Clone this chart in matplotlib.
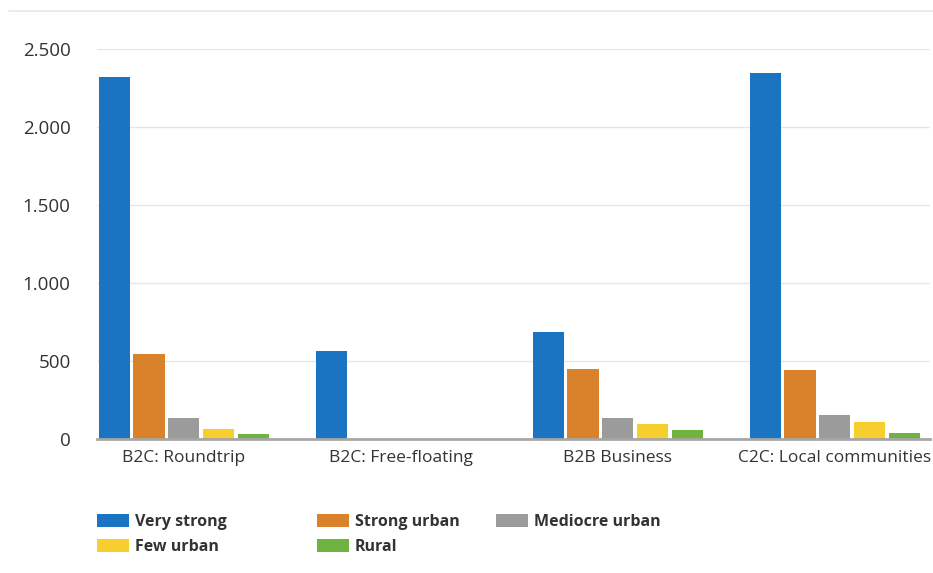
import matplotlib.pyplot as plt
import matplotlib.ticker as mtick
import numpy as np

# data
categories = ['B2C: Roundtrip', 'B2C: Free-floating', 'B2B Business', 'C2C: Local communities']
series = ['Very strong', 'Strong urban', 'Mediocre urban', 'Few urban', 'Rural']
very_strong = [2320, 566, 683, 2345]
strong_urban = [542, 0, 449, 445]
mediocre_urban = [134, 0, 133, 152]
few_urban = [66, 0, 94, 108]
rural = [34, 0, 56, 36]
yticks = [0, 500, 1000, 1500, 2000, 2500]

values = [very_strong, strong_urban, mediocre_urban, few_urban, rural]
colors = ['#1a74c2', '#d9822b', '#9b9b9b', '#f6cf2f', '#6fb440']

plt.rcParams['font.family'] = ['Open Sans', 'DejaVu Sans']

fig = plt.figure(figsize=(9.33, 5.73), dpi=100)
ax = fig.add_axes([0.104, 0.234, 0.893, 0.6806])

x = np.arange(len(categories))
slot = 0.16
handles = []
for i, (name, vals) in enumerate(zip(series, values)):
    b = ax.bar(x - 0.4 + slot * (i + 0.5), vals, width=slot * 0.9, color=colors[i], label=name, zorder=3)
    handles.append(b)

ax.set_xlim(-0.4, 3.44)
ax.set_ylim(0, 2500)
ax.set_yticks(yticks)
ax.yaxis.set_major_formatter(mtick.FuncFormatter(lambda v, p: f'{int(v):,}'.replace(',', '.')))
ax.set_xticks(x)
ax.set_xticklabels(categories)

for s in ['top', 'right', 'left']:
    ax.spines[s].set_visible(False)
ax.spines['bottom'].set_color('#a6a6a6')
ax.spines['bottom'].set_linewidth(2)
ax.spines['bottom'].set_zorder(4)
ax.grid(axis='y', color='#e6e6e6', linewidth=1, zorder=0)
ax.tick_params(axis='both', length=0, colors='#333333')
ax.tick_params(axis='y', pad=19, labelsize=13.5)
ax.tick_params(axis='x', pad=8, labelsize=12.5)

# faint rule at the top of the figure
fig.add_artist(plt.Line2D([0.01, 1.0], [0.98, 0.98], color='#e3ebee', linewidth=1.2))

# legend, one column at a time so the columns sit where they are in the picture
cols = [([0, 3], 0.104), ([1, 4], 0.340), ([2], 0.532)]
for idx, xpos in cols:
    leg = fig.legend([handles[i] for i in idx], [series[i] for i in idx],
                     loc='upper left', bbox_to_anchor=(xpos, 0.103),
                     bbox_transform=fig.transFigure, frameon=False,
                     prop={'weight': 'bold', 'size': 11.5}, handlelength=2.0,
                     handleheight=0.9, handletextpad=0.35, labelspacing=0.55,
                     borderaxespad=0, borderpad=0)
    for t in leg.get_texts():
        t.set_color('#333333')

fig.savefig('out.png', dpi=100)
